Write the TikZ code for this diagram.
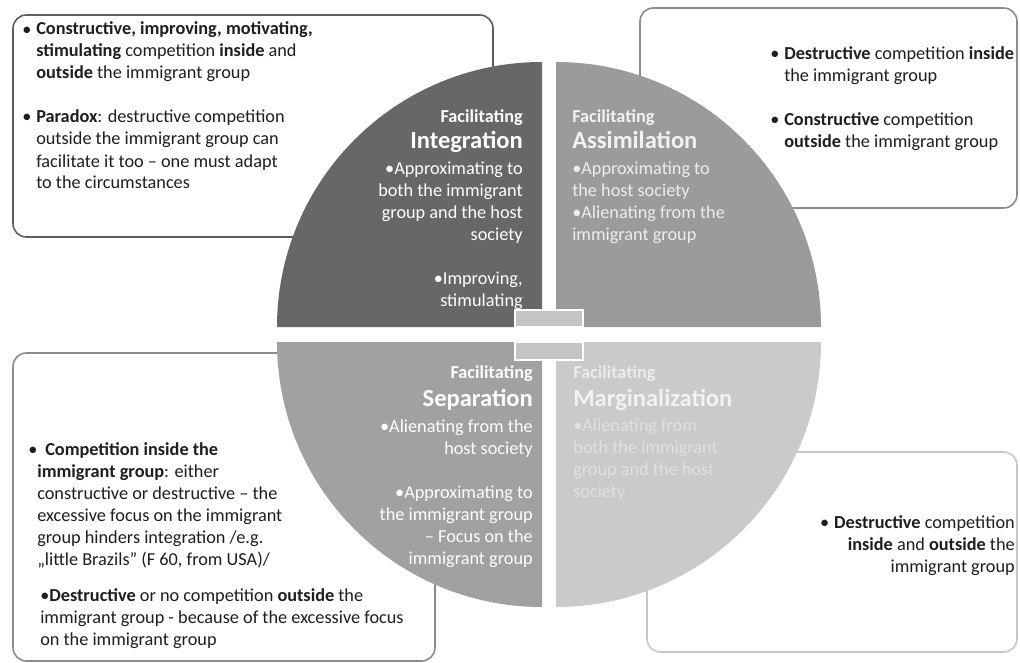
\documentclass[tikz,border=0pt]{standalone}
\usepackage{fontspec}
\setmainfont{Carlito}
\usepackage{tikz}

\definecolor{intgray}{HTML}{676767}
\definecolor{assgray}{HTML}{9B9B9B}
\definecolor{sepgray}{HTML}{A1A1A1}
\definecolor{marggray}{HTML}{CACACA}
\definecolor{hubgray}{HTML}{C4C4C4}
\definecolor{notetext}{HTML}{1E1E1E}

\newcommand{\blt}{\makebox[10.5pt][l]{•}}
\newcommand{\ind}{\hspace*{10.5pt}}

\begin{document}
\begin{tikzpicture}[
    x=0.75pt, y=-0.75pt,
    note/.style={rounded corners=10pt, line width=1.2pt, fill=white},
    hub/.style={draw=white, line width=1.2pt, fill=hubgray},
    notetxt/.style={inner sep=0pt, text=notetext, font=\fontsize{13.7}{16.5}\selectfont},
    lead/.style={inner sep=0pt, font=\fontsize{13.7}{16.5}\selectfont\bfseries},
    title/.style={inner sep=0pt, font=\fontsize{18.4}{22}\selectfont\bfseries},
    body/.style={inner sep=0pt, font=\fontsize{13.7}{16.5}\selectfont}
]
\useasboundingbox (0,0) rectangle (1020,663);
\fill[white] (0,0) rectangle (1020,663);

% boxes behind the circle
\draw[note, draw=black!63] (13,15) rectangle (493,237);
\draw[note, draw=black!45] (640,8) rectangle (1017,208);
\draw[note, draw=black!45] (13,353) rectangle (435,661);
\draw[note, draw=black!22] (647,452) rectangle (1017,652);

% four quarters
\def\qr{198.75pt}
\fill[intgray] (542,327) -- (277,327) arc[start angle=180, end angle=90, radius=\qr] -- cycle;
\fill[assgray] (556,327) -- (556,62) arc[start angle=90, end angle=0, radius=\qr] -- cycle;
\fill[sepgray] (542,342) -- (542,607) arc[start angle=270, end angle=180, radius=\qr] -- cycle;
\fill[marggray] (556,342) -- (821,342) arc[start angle=0, end angle=-90, radius=\qr] -- cycle;

\draw[hub] (515,310) rectangle (583,327);
\draw[hub] (515,342) rectangle (583,360);

% quarter texts (multi-line nodes sit on their last baseline)
\node[lead, text=white, anchor=base east] (intlead) at (523,123) {Facilitating};
\node[title, text=white, anchor=base east] (intname) at (523,149) {Integration};
\node[body, text=white, align=right, anchor=base east] (intbody) at (523,306)
    {•Approximating to\\both the immigrant\\group and the host\\society\\[16.5pt]•Improving,\\stimulating};

\node[lead, text=white!95!black, anchor=base west] (asslead) at (572,123) {Facilitating};
\node[title, text=white!95!black, anchor=base west] (assname) at (572,149) {Assimilation};
\node[body, text=white!93!black, align=left, anchor=base west] (assbody) at (572,240)
    {•Approximating to\\the host society\\•Alienating from the\\immigrant group};

\node[lead, text=white, anchor=base east] (seplead) at (533,378) {Facilitating};
\node[title, text=white, anchor=base east] (sepname) at (533,406) {Separation};
\node[body, text=white, align=right, anchor=base east] (sepbody) at (533,564)
    {•Alienating from the\\host society\\[16.5pt]•Approximating to\\the immigrant group\\– Focus on the\\immigrant group};

\node[lead, text=white!92!black, anchor=base west] (marglead) at (573,378) {Facilitating};
\node[title, text=white!95!black, anchor=base west] (margname) at (573,406) {Marginalization};
\node[body, text=white!88!black, align=left, anchor=base west] (margbody) at (573,497)
    {•Alienating from\\both the immigrant\\group and the host\\society};

% box texts
\node[notetxt, align=left, anchor=base west] (tlnote) at (22,189)
    {\blt\textbf{Constructive, improving, motivating,}\\
     \ind\textbf{stimulating} competition \textbf{inside} and\\
     \ind\textbf{outside} the immigrant group\\[16.5pt]
     \blt\textbf{Paradox}: destructive competition\\
     \ind outside the immigrant group can\\
     \ind facilitate it too – one must adapt\\
     \ind to the circumstances};

\node[notetxt, align=left, anchor=base west] (trnote) at (770,147)
    {\blt\textbf{Destructive} competition \textbf{inside}\\
     \ind the immigrant group\\[16.5pt]
     \blt\textbf{Constructive} competition\\
     \ind\textbf{outside} the immigrant group};

\node[notetxt, align=left, anchor=base west] (blnote) at (28,565)
    {\makebox[12.75pt][l]{•}\textbf{Competition inside the}\\
     \hspace*{6.75pt}\textbf{immigrant group}: either\\
     \hspace*{6.75pt}constructive or destructive – the\\
     \hspace*{6.75pt}excessive focus on the immigrant\\
     \hspace*{6.75pt}group hinders integration /e.g.\\
     \hspace*{6.75pt}„little Brazils” (F 60, from USA)/};

\node[notetxt, align=left, anchor=base west] (blnotetwo) at (40,645)
    {•\textbf{Destructive} or no competition \textbf{outside} the\\
     immigrant group - because of the excessive focus\\
     on the immigrant group};

\node[notetxt, align=right, anchor=base east] (brnote) at (1015,572)
    {\blt\textbf{Destructive} competition\\
     \textbf{inside} and \textbf{outside} the\\
     immigrant group};
\end{tikzpicture}
\end{document}
